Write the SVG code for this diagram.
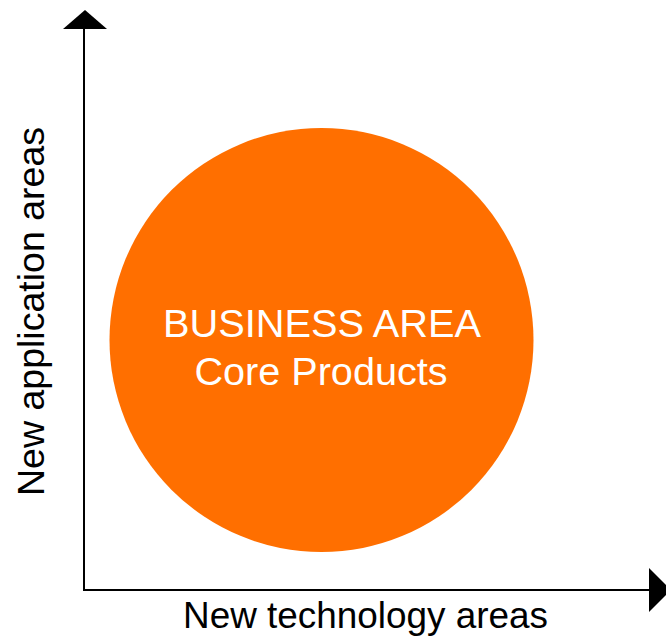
<svg xmlns="http://www.w3.org/2000/svg" width="666" height="641" viewBox="0 0 666 641">
<style>
.lbl{font-family:"Liberation Sans",Arial,sans-serif;font-size:37px;fill:#000}
.in{font-family:"Liberation Sans",Arial,sans-serif;font-size:38px;fill:#fff;text-anchor:middle}
.ax{stroke:#000;stroke-width:2;fill:none}
</style>
<rect width="666" height="641" fill="#fff"/>
<g id="connectors">
<line class="ax" x1="84" y1="28" x2="84" y2="591"/>
<line class="ax" x1="83" y1="590" x2="650" y2="590"/>
<polygon points="85,10 107,29 63,29" fill="#000"/>
<polygon points="649,568 671,590 649,612" fill="#000"/>
</g>
<g id="business-area">
<circle cx="321.5" cy="340" r="212" fill="#FF6F00"/>
<text class="in" x="322" y="337" textLength="318" lengthAdjust="spacingAndGlyphs">BUSINESS AREA</text>
<text class="in" x="321" y="385" textLength="253" lengthAdjust="spacingAndGlyphs">Core Products</text>
</g>
<g id="x-label">
<text class="lbl" x="183" y="628" textLength="365" lengthAdjust="spacingAndGlyphs">New technology areas</text>
</g>
<g id="y-label">
<text class="lbl" transform="translate(44,496) rotate(-90)" x="0" y="0" textLength="369" lengthAdjust="spacingAndGlyphs">New application areas</text>
</g>
</svg>
